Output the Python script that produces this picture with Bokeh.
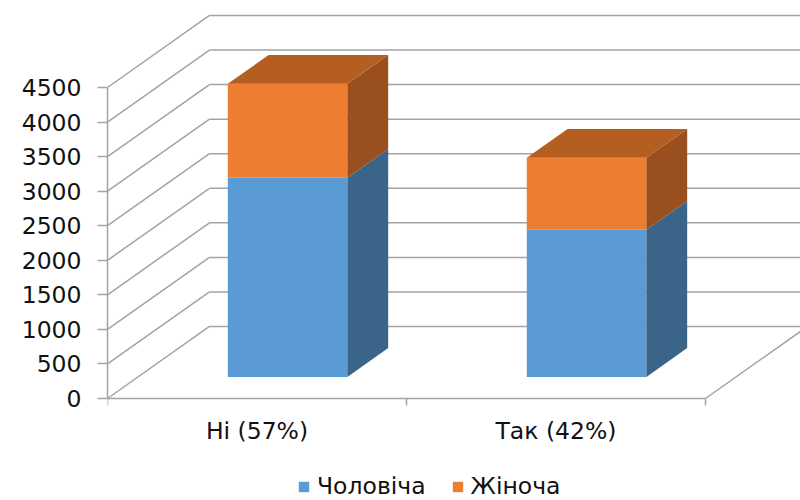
from bokeh.plotting import figure
from bokeh.models import Range1d, FixedTicker, Legend, LegendItem
from bokeh.core.properties import value
from bokeh.embed import file_html
from bokeh.resources import INLINE

# --- data ---
categories = ["Ні (57%)", "Так (42%)"]
male = [2880, 2130]      # Чоловіча
female = [1360, 1040]    # Жіноча
series_names = ["Чоловіча", "Жіноча"]
y_ticks = [0, 500, 1000, 1500, 2000, 2500, 3000, 3500, 4000, 4500]

# --- pseudo-3D projection settings (data units) ---
DX = 0.341      # horizontal shift for full depth, in category units
DY = 1042.0     # vertical shift for full depth, in value units
D0, D1 = 0.3, 0.7   # front and back depth of the bars
BAR_W = 0.4

GRID = "#a3a3a3"
TEXT = "#111111"
FONT = "DejaVu Sans"
FS = "23.5px"

PX_PER_VAL = 311 / 4500          # vertical pixels per value unit
X_MAX = 2 * 693 / 598
Y_MAX = 398 / PX_PER_VAL
Y_MIN = -102 / PX_PER_VAL        # room under the floor for labels + legend

p = figure(width=800, height=500, output_backend="svg", toolbar_location=None,
           x_range=Range1d(0, X_MAX), y_range=Range1d(Y_MIN, Y_MAX),
           min_border_left=107, min_border_right=0, min_border_top=0,
           min_border_bottom=0)
p.outline_line_color = None
p.xaxis.visible = False
p.xgrid.visible = False
p.ygrid.visible = False
p.background_fill_color = "white"
p.border_fill_color = "white"

# back wall gridlines
p.segment(x0=[DX] * len(y_ticks), y0=[v + DY for v in y_ticks],
          x1=[2 + DX + 0.5] * len(y_ticks), y1=[v + DY for v in y_ticks],
          line_color=GRID, line_width=1.5)
# side wall diagonals
p.segment(x0=[0] * len(y_ticks), y0=y_ticks,
          x1=[DX] * len(y_ticks), y1=[v + DY for v in y_ticks],
          line_color=GRID, line_width=1.5)
# floor right edge
p.segment(x0=[2], y0=[0], x1=[2 + DX], y1=[DY], line_color=GRID, line_width=1.5)

# front category axis with its tick marks between categories
tick_len = 7 / PX_PER_VAL
p.segment(x0=[0], y0=[0], x1=[len(categories)], y1=[0], line_color=GRID, line_width=1.5)
cat_edges = list(range(len(categories) + 1))
p.segment(x0=cat_edges, y0=[0] * len(cat_edges), x1=cat_edges,
          y1=[-tick_len] * len(cat_edges), line_color=GRID, line_width=1.5)

# --- stacked 3D bars ---
def side_poly(right0, bottom, top):
    r1 = right0 + (D1 - D0) * DX
    xs = [right0, r1, r1, right0]
    ys = [bottom + D0 * DY, bottom + D1 * DY, top + D1 * DY, top + D0 * DY]
    return xs, ys

def top_poly(left0, right0, top):
    s = (D1 - D0) * DX
    xs = [left0, right0, right0 + s, left0 + s]
    ys = [top + D0 * DY, top + D0 * DY, top + D1 * DY, top + D1 * DY]
    return xs, ys

centers = [0.5 + i for i in range(len(categories))]
lefts = [c - BAR_W / 2 + D0 * DX for c in centers]
rights = [c + BAR_W / 2 + D0 * DX for c in centers]
tops_m = list(male)
tops_f = [m + f for m, f in zip(male, female)]

blue = p.quad(left=lefts, right=rights, bottom=[D0 * DY] * len(male),
              top=[t + D0 * DY for t in tops_m],
              fill_color="#5b9bd5", line_color=None)
bs = [side_poly(r, 0, t) for r, t in zip(rights, tops_m)]
p.patches(xs=[s[0] for s in bs], ys=[s[1] for s in bs],
          fill_color="#3b6489", line_color=None)

orange = p.quad(left=lefts, right=rights, bottom=[t + D0 * DY for t in tops_m],
                top=[t + D0 * DY for t in tops_f],
                fill_color="#ed7d31", line_color=None)
os_ = [side_poly(r, b, t) for r, b, t in zip(rights, tops_m, tops_f)]
p.patches(xs=[s[0] for s in os_], ys=[s[1] for s in os_],
          fill_color="#9a4f1f", line_color=None)
tp = [top_poly(l, r, t) for l, r, t in zip(lefts, rights, tops_f)]
p.patches(xs=[s[0] for s in tp], ys=[s[1] for s in tp],
          fill_color="#b45e22", line_color=None)

# category labels under the front axis
p.text(x=centers, y=[0] * len(centers), text=categories, y_offset=32,
       text_align="center", text_baseline="middle",
       text_font=value(FONT), text_font_size=FS, text_color=TEXT)

# --- value axis ---
ya = p.yaxis[0]
ya.ticker = FixedTicker(ticks=y_ticks)
ya.bounds = (0, 4500)
ya.axis_line_color = GRID
ya.axis_line_width = 1.5
ya.major_tick_line_color = GRID
ya.major_tick_line_width = 1.5
ya.major_tick_out = 10
ya.major_tick_in = 0
ya.minor_tick_line_color = None
ya.major_label_standoff = 16
ya.major_label_text_font = FONT
ya.major_label_text_font_size = FS
ya.major_label_text_color = TEXT

legend = Legend(items=[LegendItem(label=series_names[0], renderers=[blue]),
                       LegendItem(label=series_names[1], renderers=[orange])],
                orientation="horizontal", location=(190, 0),
                border_line_color=None, background_fill_alpha=0,
                glyph_width=13, glyph_height=13, label_standoff=7,
                spacing=25, padding=0, margin=0,
                label_text_font=FONT, label_text_font_size=FS,
                label_text_color=TEXT)
p.add_layout(legend)

open("out.html", "w").write(file_html(p, INLINE))
